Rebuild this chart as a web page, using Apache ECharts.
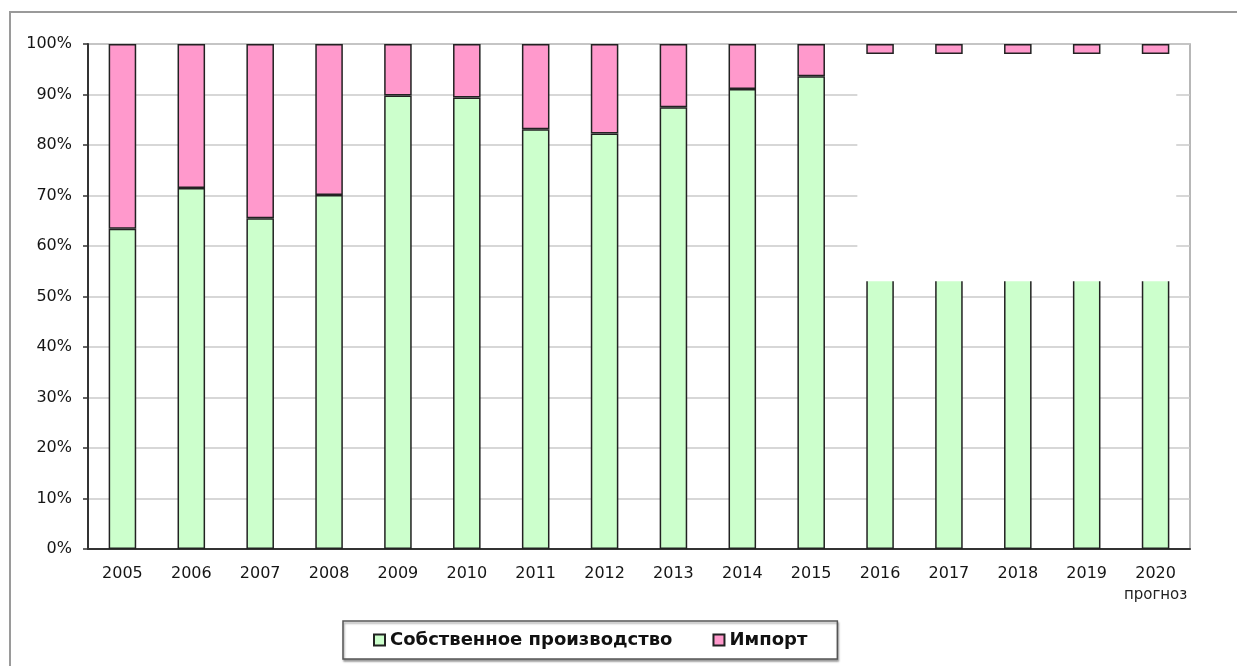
<!DOCTYPE html>
<html>
<head>
<meta charset="utf-8">
<script src="https://cdn.jsdelivr.net/npm/echarts@6/dist/echarts.min.js"></script>
<style>
  html, body { margin: 0; padding: 0; background: #fff; }
  #chart { width: 1237px; height: 666px; }
</style>
</head>
<body>
<div id="chart"></div>
<script>
  // years on the x axis
  var years = ['2005', '2006', '2007', '2008', '2009', '2010', '2011', '2012',
               '2013', '2014', '2015', '2016', '2017', '2018', '2019', '2020'];
  // share of own production, %
  var ownProduction = [63.4, 71.5, 65.5, 70.1, 89.8, 89.4, 83.1, 82.3,
                       87.5, 91.1, 93.6, 98, 98, 98, 98, 98];
  // share of import, %
  var importShare = [36.6, 28.5, 34.5, 29.9, 10.2, 10.6, 16.9, 17.7,
                     12.5, 8.9, 6.4, 2, 2, 2, 2, 2];
  var yTicks = [0, 10, 20, 30, 40, 50, 60, 70, 80, 90, 100];
  // blank area over the forecast years: [from index, to index, low %, high %]
  var blankArea = [[11, 15, 53, 98]];

  var chart = echarts.init(document.getElementById('chart'));
  chart.setOption({
    animation: false,
    textStyle: { fontFamily: 'DejaVu Sans, sans-serif' },
    graphic: [
      {
        type: 'rect',
        shape: { x: 10, y: 12, width: 1300, height: 700 },
        style: { fill: 'none', stroke: '#9a9a9a', lineWidth: 2 },
        silent: true
      }
    ],
    grid: {
      left: 88,
      top: 44,
      right: 47,
      bottom: 117,
      show: true,
      borderColor: '#a0a0a0',
      borderWidth: 1.5
    },
    legend: {
      bottom: 7,
      left: 343,
      itemWidth: 11,
      itemHeight: 11,
      itemGap: 40,
      icon: 'rect',
      padding: [10, 30],
      borderColor: '#555',
      borderWidth: 1.5,
      backgroundColor: '#fff',
      shadowColor: 'rgba(0,0,0,0.35)',
      shadowBlur: 2,
      shadowOffsetX: 1,
      shadowOffsetY: 2,
      textStyle: {
        fontFamily: 'DejaVu Sans, sans-serif',
        fontWeight: 'bold',
        fontSize: 18,
        color: '#111'
      },
      data: ['Собственное производство', 'Импорт']
    },
    xAxis: {
      type: 'category',
      data: years,
      axisLine: { lineStyle: { color: '#333', width: 2 } },
      axisTick: { length: 4, lineStyle: { color: '#333', width: 1.5 } },
      axisLabel: {
        interval: 0,
        margin: 15,
        fontSize: 16,
        color: '#151515',
        lineHeight: 20,
        formatter: function (v) {
          return v === '2020' ? '2020\n{s|прогноз}' : v;
        },
        rich: {
          s: { fontSize: 15, color: '#222', lineHeight: 22 }
        }
      }
    },
    yAxis: {
      type: 'value',
      min: yTicks[0],
      max: yTicks[yTicks.length - 1],
      interval: 10,
      axisLine: { show: true, lineStyle: { color: '#333', width: 2 } },
      axisTick: { show: true, length: 5, lineStyle: { color: '#333', width: 1.5 } },
      axisLabel: { formatter: '{value}%', fontSize: 16, color: '#151515', margin: 16 },
      splitLine: { lineStyle: { color: '#cacaca', width: 1.5 } }
    },
    series: [
      {
        name: 'Собственное производство',
        type: 'bar',
        stack: 'total',
        barWidth: '40%',
        data: ownProduction,
        itemStyle: { color: '#ccffcc', borderColor: '#222', borderWidth: 1.5 }
      },
      {
        name: 'Импорт',
        type: 'bar',
        stack: 'total',
        barWidth: '40%',
        data: importShare,
        itemStyle: { color: '#ff99cc', borderColor: '#222', borderWidth: 1.5 }
      },
      {
        type: 'custom',
        z: 5,
        silent: true,
        data: blankArea,
        encode: { x: 0, y: 3 },
        renderItem: function (params, api) {
          var band = api.size([1, 0])[0];
          var p0 = api.coord([api.value(0), api.value(3)]);
          var p1 = api.coord([api.value(1), api.value(2)]);
          var x0 = p0[0] - band * 0.33;
          var x1 = p1[0] + band * 0.3;
          return {
            type: 'rect',
            shape: { x: x0, y: p0[1], width: x1 - x0, height: p1[1] - p0[1] },
            style: { fill: '#fff' }
          };
        }
      }
    ]
  });
</script>
</body>
</html>
